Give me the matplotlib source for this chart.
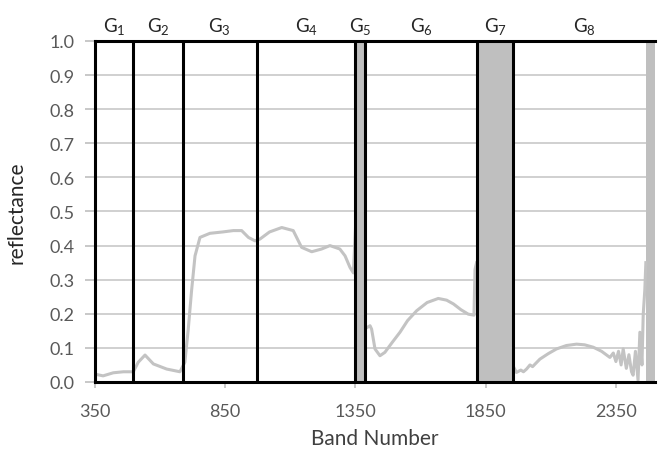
import matplotlib
matplotlib.use("Agg")
import matplotlib.pyplot as plt
import numpy as np

plt.rcParams['font.family'] = ['Lato', 'DejaVu Sans']
plt.rcParams['mathtext.fontset'] = 'custom'
plt.rcParams['mathtext.rm'] = 'Lato'

# reflectance spectrum, split at the absorption bands (nan breaks the line)
band = [350, 381, 420, 459, 497, 516, 542, 574, 625, 676, 695, 708, 721, 734, 753,
        791, 840, 881, 913, 939, 964, 983, 1020, 1067, 1111, 1143, 1182, 1220, 1252,
        1290, 1310, 1329, 1342, 1350,
        1351,
        1395, 1406, 1412, 1425, 1444, 1463, 1490, 1521, 1550, 1585, 1625, 1668, 1700,
        1726, 1755, 1783, 1805, 1809, 1815,
        1816,
        1960, 1968, 1985, 1995, 2007, 2020, 2030, 2058, 2090, 2122, 2160, 2199, 2230,
        2263, 2295, 2327, 2340, 2350, 2360, 2370, 2378, 2390, 2400, 2410, 2416, 2425,
        2435, 2442, 2450, 2455, 2461, 2465]
refl = [0.023, 0.018, 0.027, 0.030, 0.030, 0.058, 0.079, 0.053, 0.038, 0.030, 0.058,
        0.155, 0.27, 0.37, 0.424, 0.436, 0.440, 0.444, 0.444, 0.424, 0.414, 0.419,
        0.440, 0.453, 0.444, 0.395, 0.382, 0.390, 0.400, 0.390, 0.370, 0.336, 0.320, 0.45,
        np.nan,
        0.16, 0.165, 0.155, 0.097, 0.077, 0.087, 0.115, 0.146, 0.180, 0.209, 0.233,
        0.245, 0.240, 0.229, 0.212, 0.199, 0.196, 0.33, 0.35,
        np.nan,
        0.04, 0.028, 0.035, 0.030, 0.038, 0.050, 0.045, 0.067, 0.083, 0.097, 0.107,
        0.111, 0.109, 0.102, 0.090, 0.072, 0.085, 0.060, 0.090, 0.050, 0.097, 0.040,
        0.080, 0.030, 0.020, 0.090, 0.005, 0.146, 0.050, 0.20, 0.27, 0.35]

# noisy water absorption regions
noise_bands = [(1352, 1386), (1822, 1950), (2465, 2500)]

# group boundaries and labels
bounds = [497, 687, 971, 1350, 1388, 1818, 1956]
groups = ['G$_1$', 'G$_2$', 'G$_3$', 'G$_4$', 'G$_5$', 'G$_6$', 'G$_7$', 'G$_8$']

fig = plt.figure(figsize=(6.58, 4.60), dpi=100)
ax = fig.add_axes([0.1444, 0.1674, 0.8510, 0.7413])

ax.set_xlim(350, 2500)
ax.set_ylim(0, 1.0)
ax.yaxis.grid(True, color='#c8c8c8', lw=1.2)
ax.set_axisbelow(True)

for lo, hi in noise_bands:
    ax.axvspan(lo, hi, color='#bfbfbf', lw=0, zorder=1)
ax.plot(band, refl, color='#c3c3c3', lw=2.2, zorder=2)

for b in bounds:
    ax.axvline(b, color='black', lw=2.2, zorder=3)

edges = [350] + bounds + [2500]
for i, g in enumerate(groups):
    ax.text((edges[i] + edges[i + 1]) / 2, 1.012, g, ha='center', va='bottom',
            fontsize=13.5, color='#262626')

for s in ['left', 'top', 'bottom']:
    ax.spines[s].set_color('black')
    ax.spines[s].set_linewidth(2.2)
ax.spines['right'].set_visible(False)

ax.set_xticks([350, 850, 1350, 1850, 2350])
ax.set_yticks(np.arange(0, 1.01, 0.1))
ax.set_yticklabels(['%.1f' % v for v in np.arange(0, 1.01, 0.1)])
ax.tick_params(colors='#bfbfbf', labelcolor='#595959', labelsize=13, width=1.2)
ax.tick_params(axis='y', length=7, pad=8)
ax.tick_params(axis='x', length=4, pad=11)

ax.set_xlabel('Band Number', fontsize=15, color='#404040')
ax.set_ylabel('reflectance', fontsize=15, color='#262626')
ax.xaxis.set_label_coords(0.5, -0.135)
ax.yaxis.set_label_coords(-0.122, 0.5)

fig.savefig('out.png', dpi=100)
